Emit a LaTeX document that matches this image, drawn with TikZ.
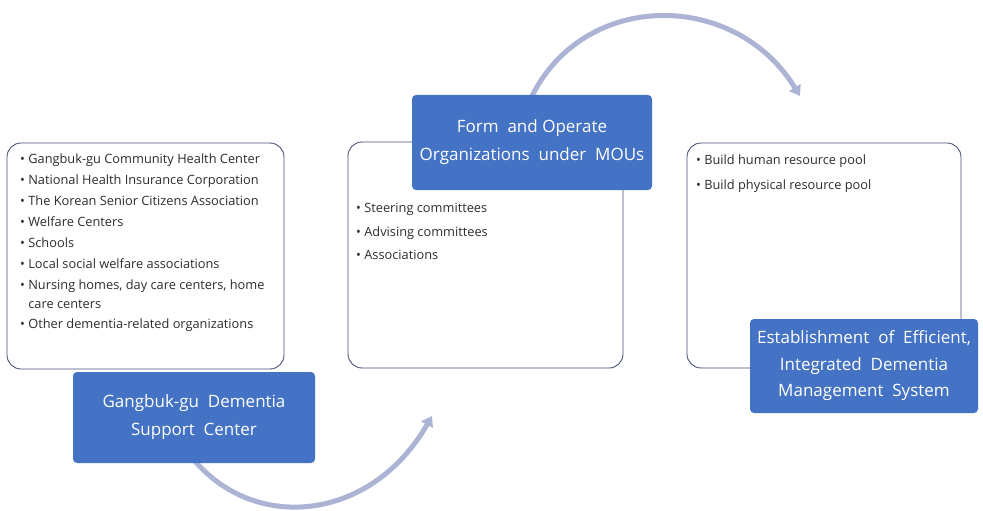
\documentclass[tikz,border=0pt]{standalone}
\usepackage{fontspec}
\setmainfont{Open Sans}
\usetikzlibrary{arrows.meta}
\definecolor{bluebox}{RGB}{68,114,196}
\definecolor{listborder}{RGB}{72,82,120}
\definecolor{arrowc}{RGB}{172,180,214}
\definecolor{listtext}{RGB}{45,45,45}
\tikzset{
  listbox/.style={draw=listborder, line width=0.9pt, fill=white, rounded corners=14pt, inner sep=0pt},
  bluenode/.style={fill=bluebox, rounded corners=4pt, text=white, align=center, inner sep=0pt},
  itemtext/.style={anchor=base west, inner sep=0pt, text=listtext, font=\fontsize{12.8}{15}\selectfont},
  cyclearrow/.style={draw=arrowc, line width=5pt, -{Triangle[length=10pt,width=13pt]}}
}
\begin{document}
\begin{tikzpicture}[x=1pt,y=-1pt]
\useasboundingbox[fill=white] (0,0) rectangle (983,511);
% arrows (drawn first, partly hidden by the boxes)
\coordinate (a1s) at (190,455);
\coordinate (a1e) at (432,416);
\coordinate (a2s) at (532,96);
\coordinate (a2e) at (800,96);
\draw[cyclearrow] (a1s) .. controls (250,533) and (370,524) .. (a1e);
\draw[cyclearrow] (a2s) .. controls (585,-10) and (735,-10) .. (a2e);
% list boxes
\node[listbox, minimum width=277pt, minimum height=226pt] (box1) at (145.5,256) {};
\node[listbox, minimum width=275pt, minimum height=226pt] (box2) at (485.5,255) {};
\node[listbox, minimum width=274pt, minimum height=225pt] (box3) at (824,255.5) {};
% box 1 items
\foreach \i/\yy/\t in {1/163.5/{• Gangbuk-gu Community Health Center},
  2/184.5/{• National Health Insurance Corporation},
  3/205.5/{• The Korean Senior Citizens Association},
  4/226.5/{• Welfare Centers},
  5/247.5/{• Schools},
  6/268.5/{• Local social welfare associations},
  7/289.5/{• Nursing homes, day care centers, home},
  9/328.5/{• Other dementia-related organizations}}
  \node[itemtext] (b1t\i) at (20,\yy) {\t};
\node[itemtext] (b1t8) at (20,308) {\phantom{• }care centers};
% box 2 items
\foreach \i/\yy/\t in {1/212.5/{• Steering committees},
  2/236.5/{• Advising committees},
  3/259.5/{• Associations}}
  \node[itemtext] (b2t\i) at (356,\yy) {\t};
% box 3 items
\foreach \i/\yy/\t in {1/164.5/{• Build human resource pool},
  2/189.5/{• Build physical resource pool}}
  \node[itemtext] (b3t\i) at (696,\yy) {\t};
% blue boxes
\node[bluenode, font=\fontsize{17}{28}\selectfont, minimum width=242pt, minimum height=91pt] (blue1) at (194,417.5)
  {Gangbuk-gu\ \ Dementia\\Support\ \ Center};
\node[bluenode, font=\fontsize{17}{28}\selectfont, minimum width=240pt, minimum height=95pt] (blue2) at (532,142.5)
  {Form\ \ and\ Operate\\Organizations\ \ under\ \ MOUs};
\node[bluenode, font=\fontsize{17}{26.5}\selectfont, minimum width=228pt, minimum height=94pt] (blue3) at (864,366)
  {Establishment\ \ of\ \ Efficient,\\Integrated\ \ Dementia\\Management\ \ System};
\end{tikzpicture}
\end{document}
